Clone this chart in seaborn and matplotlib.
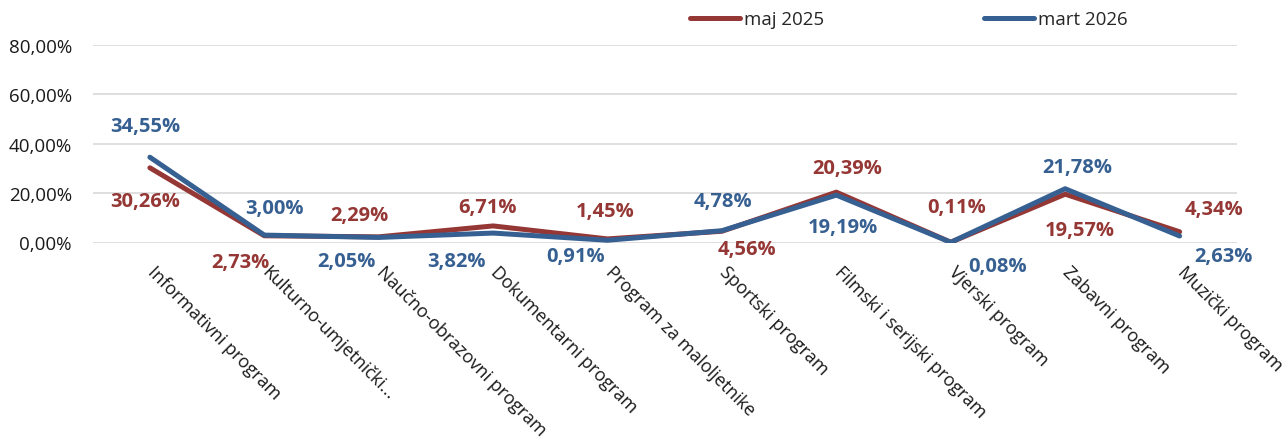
import matplotlib
matplotlib.use("Agg")
import matplotlib.pyplot as plt
import matplotlib.transforms as mtransforms
import seaborn as sns
import pandas as pd
from matplotlib.lines import Line2D

categories = ["Informativni program", "Kulturno-umjetnički...", "Naučno-obrazovni program",
              "Dokumentarni program", "Program za maloljetnike", "Sportski program",
              "Filmski i serijski program", "Vjerski program", "Zabavni program", "Muzički program"]
maj_2025 = [30.26, 2.73, 2.29, 6.71, 1.45, 4.56, 20.39, 0.11, 19.57, 4.34]
mart_2026 = [34.55, 3.00, 2.05, 3.82, 0.91, 4.78, 19.19, 0.08, 21.78, 2.63]
series_names = ["maj 2025", "mart 2026"]
yticks = [0, 20, 40, 60, 80]

# label offsets (pixels, dx right, dy down) relative to each point
maj_off = [(-5, 33), (-24, 26), (-19, -22), (-6, -19), (-2, -28),
           (25, 18), (11, -24), (6, -35), (15, 36), (34, -23)]
mart_off = [(-5, -31), (10, -27), (-32, 24), (-37, 28), (-32, 16),
            (1, -30), (7, 32), (47, 24), (12, -22), (44, 20)]

colors = {"maj 2025": "#953735", "mart 2026": "#376092"}

sns.set_theme(style="white")
plt.rcParams['font.family'] = ['Open Sans', 'DejaVu Sans']

df = pd.DataFrame({
    "Kategorija": categories * 2,
    "Vrijednost": maj_2025 + mart_2026,
    "Serija": [series_names[0]] * len(categories) + [series_names[1]] * len(categories),
})

fig = plt.figure(figsize=(12.87, 4.39), dpi=100)
ax = fig.add_axes([0.072, 1 - 243.5 / 439, 0.889, 197.5 / 439])
sns.lineplot(data=df, x="Kategorija", y="Vrijednost", hue="Serija", palette=colors,
             linewidth=3.6, ax=ax, sort=False, legend=False)

ax.set_xlim(-0.5, len(categories) - 0.5)
ax.set_ylim(0, 80)
ax.set_yticks(yticks)
ax.set_yticklabels([f"{v:.2f}".replace(".", ",") + "%" for v in yticks], fontsize=13.5, color="#1a1a1a")
ax.yaxis.grid(True, color="#d9d9d9", linewidth=1.2)
ax.set_axisbelow(True)
for s in ax.spines.values():
    s.set_visible(False)
ax.tick_params(axis="both", length=0)
ax.tick_params(axis="y", pad=15)
ax.set_xlabel("")
ax.set_ylabel("")
ax.set_xticks(range(len(categories)))
ax.set_xticklabels(categories, rotation=-45, ha="left", va="top", rotation_mode="anchor",
                   fontsize=13, color="#1a1a1a")
ax.tick_params(axis="x", pad=14)
shift = mtransforms.ScaledTranslation(7 / 100, 0, fig.dpi_scale_trans)
for lbl in ax.get_xticklabels():
    lbl.set_transform(lbl.get_transform() + shift)

for vals, offs, name in [(maj_2025, maj_off, "maj 2025"), (mart_2026, mart_off, "mart 2026")]:
    for i, (v, (dx, dy)) in enumerate(zip(vals, offs)):
        txt = f"{v:.2f}".replace(".", ",") + "%"
        ax.annotate(txt, (i, v), xytext=(dx, -dy), textcoords="offset pixels",
                    ha="center", va="center", fontsize=14.5, fontweight="bold",
                    color=colors[name], annotation_clip=False)

handles = [Line2D([0], [0], color=colors[n], linewidth=3.6, solid_capstyle="round") for n in series_names]
fig.legend(handles, series_names, loc="center", bbox_to_anchor=(0.706, 0.954), ncol=2,
           frameon=False, fontsize=13.5, handlelength=2.7, handletextpad=0.2, columnspacing=8.5)

fig.savefig("out.png", dpi=100)
